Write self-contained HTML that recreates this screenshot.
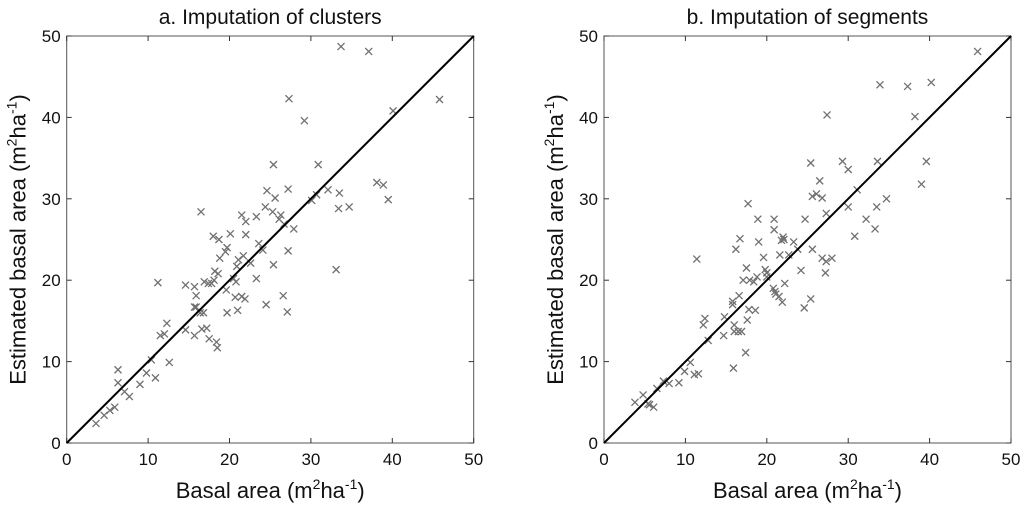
<!DOCTYPE html>
<html><head><meta charset="utf-8"><style>
body{margin:0;background:#fff;width:1024px;height:507px;overflow:hidden;font-family:"Liberation Sans",Arial,sans-serif}
</style></head><body>
<svg id="svg" width="1024" height="507" xmlns="http://www.w3.org/2000/svg"></svg>
<script>
const ticks=[0,10,20,30,40,50];
const ax=[3.6,4.6,5.3,5.9,6.3,6.3,7.1,7.7,9.0,9.8,10.4,10.9,12.6,11.2,11.5,12.0,12.3,14.6,14.6,15.7,15.7,15.9,15.7,15.9,16.4,16.8,16.5,16.6,17.2,17.5,18.4,18.5,16.9,17.4,17.8,18.1,18.2,18.6,18.0,18.7,18.8,19.5,19.7,20.1,19.6,19.7,20.5,20.8,20.9,21.1,21.7,22.6,20.7,21.5,21.9,21.0,21.5,22.0,22.0,23.3,23.6,24.1,23.3,25.4,24.5,24.4,24.6,25.6,25.4,25.3,26.3,26.1,26.7,27.9,27.2,27.3,27.2,26.6,27.1,29.2,30.1,30.7,30.9,32.1,33.5,33.4,34.7,33.1,33.7,37.1,40.1,45.8,38.1,38.9,39.5];
const ay=[2.4,3.4,4.0,4.4,9.0,7.4,6.3,5.7,7.2,8.6,10.2,8.0,9.9,19.7,13.2,13.4,14.7,13.9,19.4,13.2,19.2,18.1,16.7,16.7,16.0,16.0,28.4,14.0,14.1,12.8,12.4,11.7,19.8,19.6,19.6,20.0,21.1,20.8,25.4,25.0,22.7,23.5,24.0,25.7,18.8,16.0,20.2,19.8,21.7,22.5,23.0,22.1,17.9,18.0,17.7,16.3,28.0,27.2,25.6,27.8,24.5,23.7,20.2,21.9,17.0,29.0,31.0,30.1,34.2,28.4,28.0,27.5,26.9,26.3,31.2,42.3,23.6,18.1,16.1,39.6,29.8,30.5,34.2,31.1,30.7,28.8,29.0,21.3,48.7,48.1,40.8,42.2,32.0,31.7,29.9];
const bx=[3.8,4.8,5.4,5.6,6.1,6.5,7.3,8.0,9.2,9.9,10.6,11.1,11.6,11.4,12.8,12.2,12.4,14.7,14.8,15.8,15.8,16.6,16.0,16.0,16.5,16.9,15.9,17.4,17.6,17.8,18.6,16.2,16.7,17.5,17.7,17.1,17.9,18.4,18.8,18.9,19.0,19.6,19.8,20.0,20.0,20.9,20.9,21.8,22.0,22.1,21.6,22.7,23.3,23.8,22.2,20.8,21.0,21.1,21.5,21.9,24.2,24.6,25.4,24.7,25.6,25.4,25.6,26.1,26.8,26.5,26.8,27.3,27.3,28.0,27.2,27.4,29.3,30.0,30.0,31.1,30.8,32.2,33.3,33.5,33.6,34.7,33.9,37.3,38.2,40.2,39.6,39.0,45.9];
const by=[5.0,5.9,4.8,4.7,4.4,6.7,7.6,7.3,7.4,8.8,9.9,8.4,8.5,22.6,12.6,14.5,15.3,13.2,15.5,17.4,17.0,18.1,14.5,13.7,13.7,13.7,9.2,11.1,15.1,16.4,16.3,23.8,25.1,21.5,29.4,20.0,20.0,19.8,20.4,27.5,24.7,22.8,21.3,20.9,20.4,27.5,26.2,24.9,25.3,25.0,23.1,23.1,24.7,23.8,19.6,19.0,18.6,18.3,18.0,17.3,21.2,16.6,17.7,27.5,23.8,34.4,30.3,30.6,30.1,32.2,22.7,28.2,22.3,22.7,20.9,40.3,34.6,33.6,29.0,31.1,25.4,27.5,26.3,29.0,34.6,30.0,44.0,43.8,40.1,44.3,34.6,31.8,48.1];
const NS="http://www.w3.org/2000/svg";
const svg=document.getElementById('svg');
function mk(t,a,p){const e=document.createElementNS(NS,t);for(const k in a)e.setAttribute(k,a[k]);(p||svg).appendChild(e);return e;}
function panel(id,L,title,xs,ys){
  const T=36,B=443,R=L+407;
  const g=mk('g',{});
  
  
  const sx=v=>L+v/50*(R-L), sy=v=>B-v/50*(B-T);
  const fr=mk('rect',{x:L,y:T,width:R-L,height:B-T,fill:'none',stroke:'#555','stroke-width':1},g);
  
  
  ticks.forEach(t=>{
    mk('line',{x1:sx(t),x2:sx(t),y1:B,y2:B-5,stroke:'#333'},g);
    mk('line',{x1:sx(t),x2:sx(t),y1:T,y2:T+5,stroke:'#333'},g);
    mk('line',{x1:L,x2:L+5,y1:sy(t),y2:sy(t),stroke:'#333'},g);
    mk('line',{x1:R,x2:R-5,y1:sy(t),y2:sy(t),stroke:'#333'},g);
    const tx=mk('text',{x:sx(t),y:B+22,'text-anchor':'middle','font-size':17,fill:'#111'},g);tx.textContent=t;
    
    
    const ty=mk('text',{x:L-6,y:sy(t)+6,'text-anchor':'end','font-size':17,fill:'#111'},g);ty.textContent=t;
    
    
  });
  xs.forEach((x,i)=>{
    const cx=sx(x),cy=sy(ys[i]),s=3.5;
    const p=mk('path',{d:`M${cx-s},${cy-s}L${cx+s},${cy+s}M${cx-s},${cy+s}L${cx+s},${cy-s}`,stroke:'#707070','stroke-width':1.3,fill:'none'},g);
    
    
  });
  const ln=mk('line',{x1:sx(0),y1:sy(0),x2:sx(50),y2:sy(50),stroke:'#000','stroke-width':2},g);
  
  
  const ti=mk('text',{x:(L+R)/2,y:24,'text-anchor':'middle','font-size':21,fill:'#111'},g);ti.textContent=title;
  
  
  const xl=mk('text',{x:(L+R)/2,y:498,'text-anchor':'middle','font-size':22,fill:'#111'},g);
  xl.innerHTML='Basal area (m<tspan font-size="14" dy="-9">2</tspan><tspan dy="9">ha</tspan><tspan font-size="14" dy="-9">-1</tspan><tspan dy="9">)</tspan>';
  
  
  const yl=mk('text',{x:0,y:0,'text-anchor':'middle','font-size':22,fill:'#111',transform:`translate(${L-41},${(T+B)/2}) rotate(-90)`},g);
  yl.innerHTML='Estimated basal area (m<tspan font-size="14" dy="-9">2</tspan><tspan dy="9">ha</tspan><tspan font-size="14" dy="-9">-1</tspan><tspan dy="9">)</tspan>';
  
  
}
panel('panel-clusters',66.7,'a. Imputation of clusters',ax,ay);
panel('panel-segments',604,'b. Imputation of segments',bx,by);
</script>
</body></html>
